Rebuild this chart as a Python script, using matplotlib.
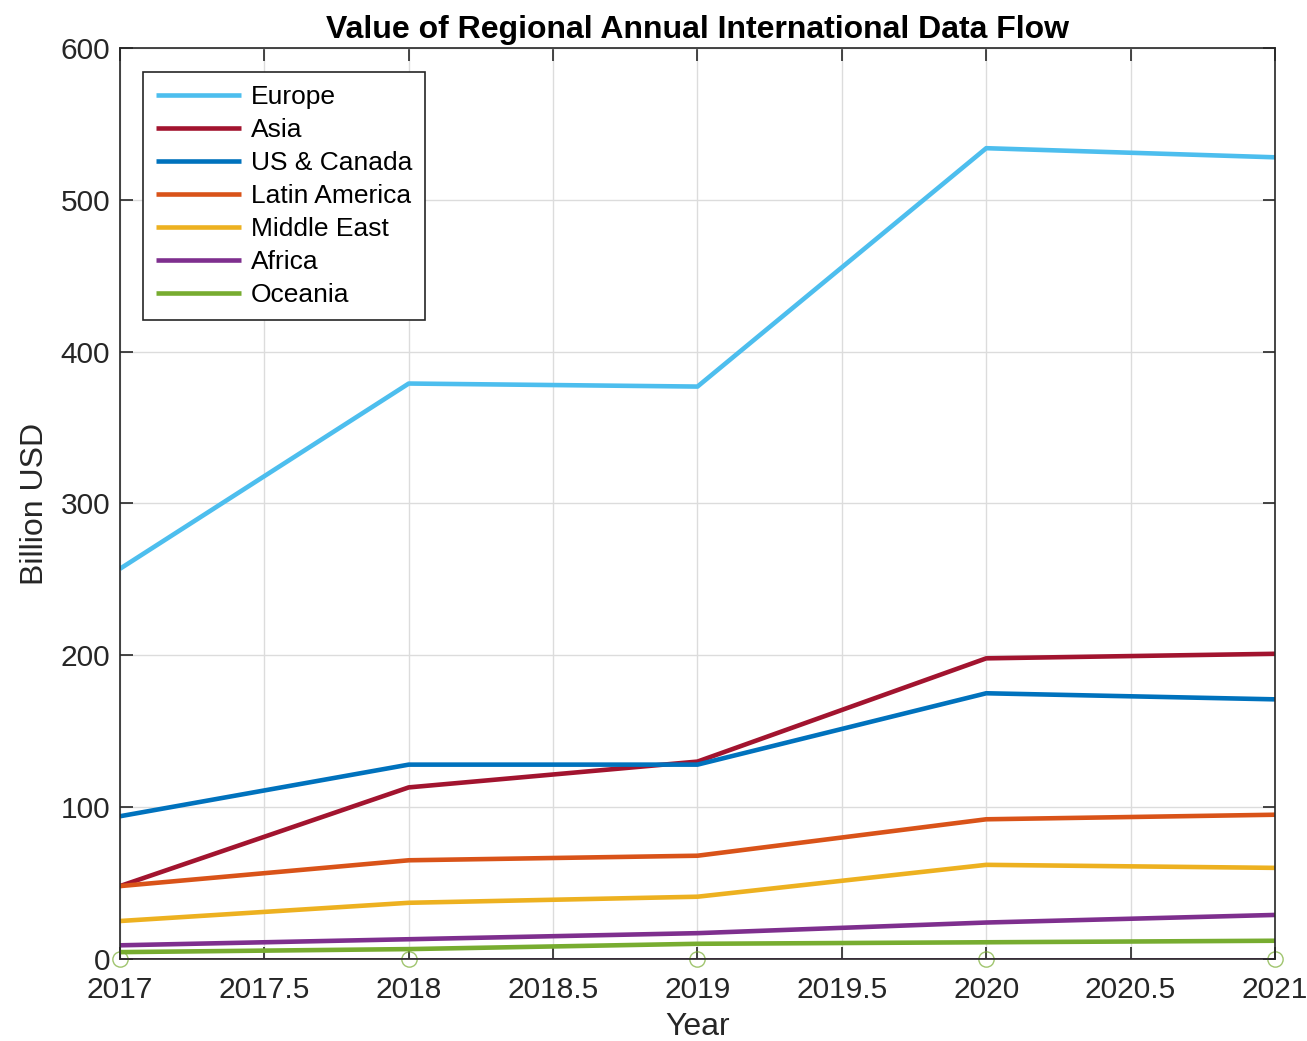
import matplotlib.pyplot as plt
import numpy as np

plt.rcParams['font.family'] = ['Liberation Sans', 'DejaVu Sans']

years = [2017, 2018, 2019, 2020, 2021]
regions = ["Europe", "Asia", "US & Canada", "Latin America", "Middle East", "Africa", "Oceania"]
europe = [257, 379, 377, 534, 528]
asia = [48, 113, 130, 198, 201]
us_canada = [94, 128, 128, 175, 171]
latin_america = [48, 65, 68, 92, 95]
middle_east = [25, 37, 41, 62, 60]
africa = [9, 13, 17, 24, 29]
oceania = [4.5, 6.5, 10, 11, 12]
zero_vals = [0, 0, 0, 0, 0]

# MATLAB default colour order
colors = ["#4DBEEE", "#A2142F", "#0072BD", "#D95319", "#EDB120", "#7E2F8E", "#77AC30"]
series = [europe, asia, us_canada, latin_america, middle_east, africa, oceania]

fig = plt.figure(figsize=(13.07, 10.41), dpi=100)
ax = fig.add_axes([0.0918, 0.0788, 0.8837, 0.8751])

for name, vals, c in zip(regions, series, colors):
    ax.plot(years, vals, color=c, lw=3.3, label=name, solid_capstyle='butt')

# leftover zero series along the bottom
ax.plot(years, zero_vals, color="#7E2F8E", lw=1.2, zorder=1)
ax.plot(years, zero_vals, color="#A2142F", lw=0.8, alpha=0.6, zorder=1)
ax.plot(years, zero_vals, ls='none', marker='o', ms=11, mfc='none',
        mec="#77AC30", mew=1.0, alpha=0.7, clip_on=False)

ax.set_xlim(2017, 2021)
ax.set_ylim(0, 600)
ax.set_xticks(np.arange(2017, 2021.01, 0.5))
ax.set_xticklabels(["2017", "2017.5", "2018", "2018.5", "2019", "2019.5", "2020", "2020.5", "2021"])
ax.set_yticks(np.arange(0, 601, 100))

ax.grid(True, color="#dcdcdc", lw=1)
ax.set_axisbelow(True)
ax.tick_params(direction='in', top=True, right=True, length=9, width=1.2,
               labelsize=21.5, color="#262626", labelcolor="#262626")
ax.tick_params(axis='x', pad=12)
ax.tick_params(axis='y', pad=7)
for sp in ax.spines.values():
    sp.set_color("#262626")
    sp.set_linewidth(1.2)

ax.set_xlabel("Year", fontsize=23, color="#262626", labelpad=6)
ax.set_ylabel("Billion USD", fontsize=23, color="#262626", labelpad=8)
ax.set_title("Value of Regional Annual International Data Flow",
             fontsize=23, fontweight='bold', pad=7)

leg = ax.legend(loc="upper left", bbox_to_anchor=(0.02, 0.9737), borderaxespad=0,
                fontsize=19, handlelength=3.2, handletextpad=0.38, labelspacing=0.34,
                borderpad=0.5, fancybox=False, edgecolor="#262626", framealpha=1)
leg.get_frame().set_linewidth(1.2)

fig.savefig("out.png", dpi=100)
